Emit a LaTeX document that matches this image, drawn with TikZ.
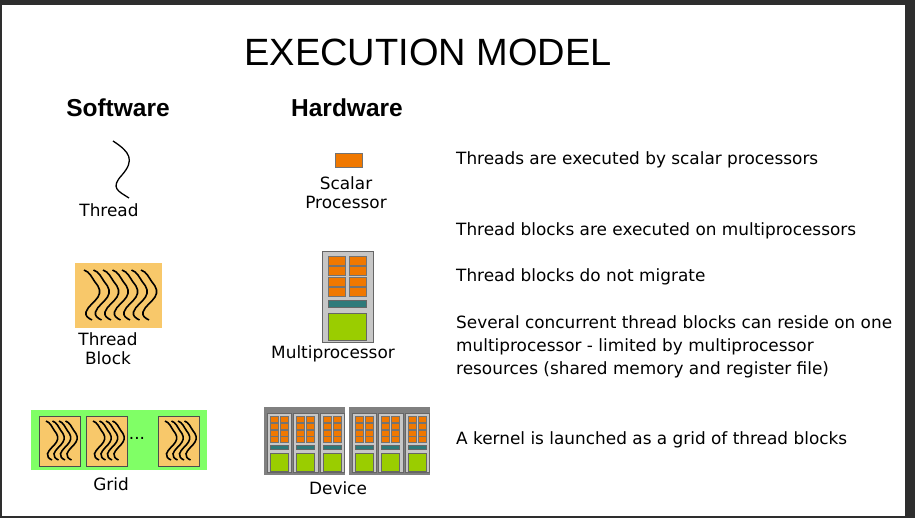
\documentclass[tikz,border=0pt]{standalone}
\usepackage{fontspec}
\setmainfont{DejaVu Sans}
\newfontfamily\arialf{Liberation Sans}
\definecolor{blk}{HTML}{F8C86A}
\definecolor{grd}{HTML}{80FF66}
\definecolor{org}{HTML}{F07800}
\definecolor{tl}{HTML}{2E7A7A}
\definecolor{lm}{HTML}{9ACD00}
\begin{document}
\begin{tikzpicture}[x=1pt,y=-1pt,
  body/.style={font=\fontsize{16.9}{19}\selectfont, text=black, inner sep=0pt},
  lbl/.style={body, align=center},
  orng/.style={fill=org, draw=black!55, line width=0.5pt},
  teal/.style={fill=tl, draw=black!60, line width=0.5pt},
  lime/.style={fill=lm, draw=black!60, line width=0.5pt},
  wave/.style={line width=1.6pt, black},
  pics/mp/.style={code={
    \draw[fill=black!22, draw=black!60, line width=0.6pt] (0,0) rectangle (51,91);
    \foreach \r in {0,1,2,3}{
      \draw[orng] (6,{5+\r*10.5}) rectangle (23,{14+\r*10.5});
      \draw[orng] (27,{5+\r*10.5}) rectangle (44,{14+\r*10.5});}
    \draw[teal] (6,49) rectangle (44,56);
    \draw[lime] (6,62) rectangle (44,89);
  }},
  pics/wv/.style={code={
    \draw[wave] (0,0) .. controls (6,2) and (8,8) .. (11,12) .. controls (16,18) and (17,22) .. (14,27)
      .. controls (11,32) and (4,36) .. (2,42) .. controls (1,46) and (4,48) .. (8,50);
  }}
]
\useasboundingbox (0,0) rectangle (915,518);
\fill[white] (0,0) rectangle (915,518);
\fill[black!82] (0,0) rectangle (915,5);
\fill[black!82] (0,0) rectangle (2,518);
\fill[black!82] (905,0) rectangle (915,518);
\fill[black!82] (0,516) rectangle (915,518);

\node[font=\arialf\fontsize{38}{40}\selectfont, inner sep=0pt] (title) at (428,52) {EXECUTION MODEL};
\node[font=\arialf\bfseries\fontsize{24.5}{26}\selectfont, inner sep=0pt] (sw) at (118,108) {Software};
\node[font=\arialf\bfseries\fontsize{24.5}{26}\selectfont, inner sep=0pt] (hw) at (347,108) {Hardware};

% Thread
\draw[line width=1.3pt] (113,141) .. controls (130,152) and (135,160) .. (122,175)
  .. controls (110,188) and (118,191) .. (129,198);
\node[body] (thr) at (109,210) {Thread};

% Scalar processor
\draw[orng] (335,153) rectangle (362,167);
\node[inner sep=0pt] (sp) at (348,160) {};
\node[lbl] (spl) at (346,193) {Scalar\\Processor};

% Thread block
\fill[blk] (75,263) rectangle (162,328);
\foreach \i in {0,...,6} \pic at ({84+\i*9.5},270) {wv};
\node[lbl] (tbl) at (108,349) {Thread\\Block};

% Multiprocessor
\pic at (322,251) {mp};
\node[body] (mpl) at (333,354) {Multiprocessor};

% Grid
\fill[grd] (31,410) rectangle (207,470);
\foreach \bx in {39,86,158}{
  \draw[fill=blk, draw=black!70, line width=0.6pt] (\bx,416) rectangle (\bx+41,466);
  \foreach \i in {0,1,2,3} \pic[xscale=0.75, yscale=0.78, line width=1.1pt] at ({\bx+7+\i*6.5},421) {wv};}
\node[body] (dots) at (137,438) {...};
\node[body] (gl) at (111,484) {Grid};

% Device
\foreach \dx in {264,349}{
  \fill[black!50] (\dx,407) rectangle (\dx+81,475);
  \foreach \k in {0,1,2}
    \pic[xscale=0.48, yscale=0.65] at (\dx+3+\k*26.5,413) {mp};}
\node[body] (dl) at (338,488) {Device};

% Right texts
\node[body, anchor=west] (t1) at (456,160) {Threads are executed by scalar processors};
\node[body, anchor=west] (t2) at (456,231) {Thread blocks are executed on multiprocessors};
\node[body, anchor=west] (t3) at (456,277) {Thread blocks do not migrate};
\node[body, anchor=north west, align=left, font=\fontsize{16.9}{23.3}\selectfont] (t4) at (456,315)
  {Several concurrent thread blocks can reside on one\\multiprocessor - limited by multiprocessor\\resources (shared memory and register file)};
\node[body, anchor=west] (t5) at (456,440) {A kernel is launched as a grid of thread blocks};
\end{tikzpicture}
\end{document}
